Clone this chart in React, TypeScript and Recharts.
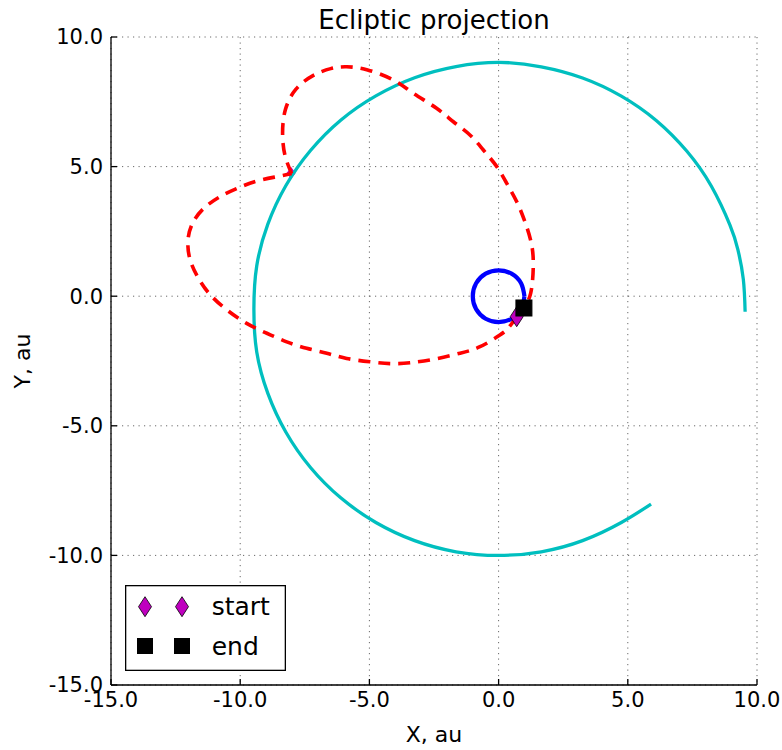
import React from "react";
import {
  ComposedChart,
  Line,
  Scatter,
  XAxis,
  YAxis,
  CartesianGrid,
  Legend,
} from "recharts";

// orbit / trajectory points, [x, y] in au
const SATURN_ORBIT: [number, number][] = [
  [9.54, -0.6], [9.47, 0.66], [9.26, 1.8], [8.95, 2.75], [8.23, 4.25], [7.28, 5.6],
  [6.1, 6.78], [4.75, 7.72], [3.25, 8.42], [1.65, 8.85], [0.02, 9.02],
  [-1.65, 8.86], [-3.25, 8.43], [-4.75, 7.73], [-6.1, 6.8], [-7.28, 5.62],
  [-8.23, 4.27], [-8.93, 2.78], [-9.36, 1.17], [-9.47, -0.5], [-9.36, -2.15],
  [-8.93, -3.75], [-8.23, -5.25], [-7.28, -6.61], [-6.11, -7.78], [-4.75, -8.73],
  [-3.25, -9.43], [-1.65, -9.86], [0.0, -10.0], [1.65, -9.86], [3.25, -9.43],
  [4.75, -8.73], [5.9, -8.02],
];

const EARTH_ORBIT: [number, number][] = [
  [1, 0], [0.87, 0.5], [0.5, 0.87], [0, 1], [-0.5, 0.87], [-0.87, 0.5],
  [-1, 0], [-0.87, -0.5], [-0.5, -0.87], [0, -1], [0.5, -0.87], [0.87, -0.5],
  [1, 0],
];

// probe path, earth -> saturn flyby
const PROBE_OUT: [number, number][] = [
  [0.7, -0.79], [0.4, -1.2], [0.05, -1.5], [-0.72, -1.95], [-1.49, -2.2],
  [-2.45, -2.42], [-3.43, -2.57], [-4.2, -2.6], [-4.98, -2.53], [-5.88, -2.4],
  [-6.65, -2.2], [-7.43, -2.01], [-8.2, -1.76], [-8.97, -1.43], [-9.75, -1.05],
  [-10.55, -0.5], [-11.2, 0.1], [-11.65, 0.75], [-11.95, 1.45], [-12.02, 2.17],
  [-11.85, 2.8], [-11.45, 3.35], [-10.85, 3.8], [-10.14, 4.15], [-9.36, 4.44],
  [-8.59, 4.61], [-8.01, 4.73],
];

// flyby -> back to earth
const PROBE_BACK: [number, number][] = [
  [-8.01, 4.73], [-8.27, 5.45], [-8.36, 6.3], [-8.25, 7.2], [-7.85, 7.98],
  [-7.2, 8.5], [-6.5, 8.78], [-5.88, 8.85], [-5.07, 8.73], [-4.07, 8.34],
  [-3.3, 7.83], [-2.4, 7.25], [-1.75, 6.73], [-1.11, 6.22], [-0.59, 5.64],
  [-0.07, 5.0], [0.31, 4.36], [0.7, 3.65], [1.02, 2.87], [1.28, 1.98],
  [1.34, 1.08], [1.24, 0.11], [0.98, -0.45],
];

const START_POINTS: [number, number][] = [[0.7, -0.79]];
const FLYBY_POINTS: [number, number][] = [[-8.03, 4.75]];
const END_POINTS: [number, number][] = [[0.98, -0.455]];

const TICKS = [-15, -10, -5, 0, 5, 10];
const LEGEND_ITEMS = ["start", "end"];

const FONT = "'DejaVu Sans', sans-serif";
const MAGENTA = "#bf00bf";

const toPts = (arr: [number, number][]) => arr.map(([x, y]) => ({ x, y }));
const fmt = (v: number) => v.toFixed(1);

const diamond = (cx: number, cy: number, w: number, h: number) =>
  `M${cx},${cy - h / 2} L${cx + w / 2},${cy} L${cx},${cy + h / 2} L${cx - w / 2},${cy} Z`;

const StartShape = (p: any) => (
  <path d={diamond(p.cx, p.cy, 13, 20)} fill={MAGENTA} stroke="#000" strokeWidth={0.8} />
);
const FlybyShape = (p: any) => (
  <path d={diamond(p.cx, p.cy, 9, 12)} fill={MAGENTA} stroke="none" />
);
const EndShape = (p: any) => (
  <rect x={p.cx - 8} y={p.cy - 8} width={16} height={16} fill="#000" stroke="#000" strokeWidth={1} />
);

function LegendBox() {
  return (
    <svg width={161} height={86} style={{ display: "block" }}>
      <rect x={0.65} y={0.65} width={159.7} height={84.7} fill="#fff" stroke="#000" strokeWidth={1.3} />
      {LEGEND_ITEMS.map((label, i) => {
        const cy = i === 0 ? 21.7 : 61;
        return (
          <g key={label}>
            {[20, 57].map((cx) =>
              label === "start" ? (
                <path key={cx} d={diamond(cx, cy, 13, 20)} fill={MAGENTA} stroke="#000" strokeWidth={0.8} />
              ) : (
                <rect key={cx} x={cx - 8} y={cy - 8} width={16} height={16} fill="#000" />
              )
            )}
            <text x={86.7} y={cy + 8.5} fontSize={25} fontFamily={FONT} fill="#000">
              {label}
            </text>
          </g>
        );
      })}
    </svg>
  );
}

const tickStyle = { fontSize: 21, fill: "#000", fontFamily: FONT };
const axisStroke = { stroke: "#000", strokeWidth: 1.3 };

export default function App() {
  return (
    <div
      style={{
        position: "absolute",
        left: 0,
        top: 0,
        width: 782,
        height: 750,
        background: "#fff",
        fontFamily: FONT,
      }}
    >
      <div
        style={{
          position: "absolute",
          left: 111,
          width: 646,
          top: 7,
          textAlign: "center",
          fontSize: 26,
          lineHeight: "26px",
          color: "#000",
        }}
      >
        Ecliptic projection
      </div>
      <ComposedChart width={782} height={750} margin={{ top: 37, right: 25, bottom: 0, left: 0 }}>
        <CartesianGrid
          xAxisId="b"
          yAxisId="l"
          stroke="#000"
          strokeWidth={0.8}
          strokeOpacity={0.75}
          strokeDasharray="1.2 4.3"
        />
        <XAxis
          xAxisId="b"
          type="number"
          dataKey="x"
          domain={[-15, 10]}
          ticks={TICKS}
          allowDataOverflow
          tickFormatter={fmt}
          height={65}
          tick={tickStyle}
          tickSize={-6}
          tickMargin={13}
          tickLine={axisStroke}
          axisLine={axisStroke}
          label={{ value: "X, au", position: "insideBottom", offset: 8, fontSize: 22, fill: "#000", fontFamily: FONT }}
        />
        <XAxis
          xAxisId="t"
          orientation="top"
          type="number"
          dataKey="x"
          domain={[-15, 10]}
          ticks={TICKS}
          allowDataOverflow
          height={0}
          tick={false}
          tickSize={-6}
          tickLine={axisStroke}
          axisLine={axisStroke}
        />
        <YAxis
          yAxisId="l"
          type="number"
          dataKey="y"
          domain={[-15, 10]}
          ticks={TICKS}
          allowDataOverflow
          tickFormatter={fmt}
          width={111}
          tick={tickStyle}
          tickSize={-6}
          tickMargin={14}
          tickLine={axisStroke}
          axisLine={axisStroke}
          label={{
            value: "Y, au",
            angle: -90,
            position: "insideLeft",
            offset: 22,
            fontSize: 22,
            fill: "#000",
            fontFamily: FONT,
            style: { textAnchor: "middle" },
          }}
        />
        <YAxis
          yAxisId="r"
          orientation="right"
          type="number"
          dataKey="y"
          domain={[-15, 10]}
          ticks={TICKS}
          allowDataOverflow
          width={0}
          tick={false}
          tickSize={-6}
          tickLine={axisStroke}
          axisLine={axisStroke}
        />

        <Scatter
          xAxisId="b"
          yAxisId="l"
          data={toPts(FLYBY_POINTS)}
          shape={FlybyShape}
          isAnimationActive={false}
          zIndex={300}
        />
        <Line
          xAxisId="b"
          yAxisId="l"
          data={toPts(SATURN_ORBIT)}
          dataKey="y"
          type="natural"
          stroke="#00bfbf"
          strokeWidth={3.3}
          dot={false}
          activeDot={false}
          isAnimationActive={false}
        />
        <Line
          xAxisId="b"
          yAxisId="l"
          data={toPts(EARTH_ORBIT)}
          dataKey="y"
          type="natural"
          stroke="#0000ff"
          strokeWidth={4.2}
          dot={false}
          activeDot={false}
          isAnimationActive={false}
        />
        <Line
          xAxisId="b"
          yAxisId="l"
          data={toPts(PROBE_OUT)}
          dataKey="y"
          type="natural"
          stroke="#ff0000"
          strokeWidth={3.6}
          strokeDasharray="12 8"
          dot={false}
          activeDot={false}
          isAnimationActive={false}
        />
        <Line
          xAxisId="b"
          yAxisId="l"
          data={toPts(PROBE_BACK)}
          dataKey="y"
          type="natural"
          stroke="#ff0000"
          strokeWidth={3.6}
          strokeDasharray="12 8"
          dot={false}
          activeDot={false}
          isAnimationActive={false}
        />
        <Scatter
          xAxisId="b"
          yAxisId="l"
          data={toPts(START_POINTS)}
          shape={StartShape}
          isAnimationActive={false}
        />
        <Scatter
          xAxisId="b"
          yAxisId="l"
          data={toPts(END_POINTS)}
          shape={EndShape}
          isAnimationActive={false}
        />
        <Legend
          layout="vertical"
          align="center"
          verticalAlign="middle"
          width={161}
          height={86}
          wrapperStyle={{ left: 125, top: 585, width: 161, height: 86 }}
          content={() => <LegendBox />}
        />
      </ComposedChart>
    </div>
  );
}
